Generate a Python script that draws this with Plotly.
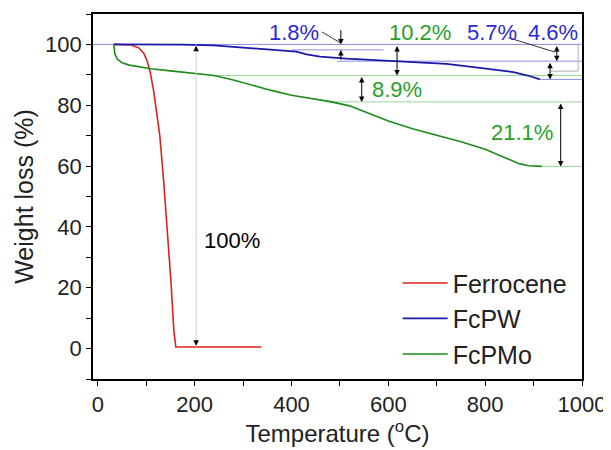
import plotly.graph_objects as go

# ---------------- data ----------------
fer_x = [33, 55, 70, 85, 95, 102, 108, 115, 122, 128, 136, 144, 151, 157, 161, 200, 260, 338]
fer_y = [100, 100, 99.8, 98.8, 97, 94.5, 91, 85, 77, 70, 55, 38, 22, 6, 0.5, 0.5, 0.5, 0.5]

pw_x = [33, 100, 171, 239, 308, 377, 410, 431, 459, 514, 583, 652, 720, 789, 858, 890, 913]
pw_y = [100, 100, 99.9, 99.7, 98.9, 98.2, 97.6, 96.7, 96.0, 95.3, 94.8, 94.3, 93.6, 92.3, 90.9, 89.7, 88.5]

pmo_x = [33, 35, 40, 50, 65, 85, 110, 150, 200, 240, 280, 320, 360, 400, 440, 480, 520,
         560, 600, 650, 700, 750, 800, 840, 870, 890, 917]
pmo_y = [100, 97, 95.2, 94, 93.2, 92.6, 92, 91.3, 90.6, 89.8, 88.3, 86.5, 84.8, 83.3, 82.2,
         81.2, 79.8, 77.2, 74.8, 72.3, 70.2, 68, 65.5, 62.8, 60.8, 60.1, 59.9]

# weight-loss step levels (%)
pw_levels = [100, 98.2, 94.5, 88.5]
pmo_levels = [100, 89.8, 81.1, 59.9]
fer_levels = [100, 0.5]
step_labels_pw = ["1.8%", "5.7%", "4.6%"]
step_labels_pmo = ["10.2%", "8.9%", "21.1%"]
fer_label = "100%"

x_ticks = [0, 200, 400, 600, 800, 1000]
y_ticks = [0, 20, 40, 60, 80, 100]

# ---------------- styles ----------------
RED = "#e0201c"
BLUE = "#1a1aa8"
GREEN = "#1c8c1c"
BLUE_T = "#2a2ad2"
GREEN_T = "#27a027"
BLUE_L = "#8c8ce6"
GREEN_L = "#96d696"
GREY_L = "#d0d0d0"
FONT = "Arial, Liberation Sans, sans-serif"

fig = go.Figure()
fig.add_trace(go.Scatter(x=fer_x, y=fer_y, mode="lines", name="Ferrocene",
                         line=dict(color=RED, width=1.6)))
fig.add_trace(go.Scatter(x=pw_x, y=pw_y, mode="lines", name="FcPW",
                         line=dict(color=BLUE, width=1.8)))
fig.add_trace(go.Scatter(x=pmo_x, y=pmo_y, mode="lines", name="FcPMo",
                         line=dict(color=GREEN, width=1.6)))

shapes = []
def hline(y, x0, x1, color):
    shapes.append(dict(type="line", xref="x", yref="y", x0=x0, x1=x1, y0=y, y1=y,
                       line=dict(color=color, width=1), layer="below"))

# reference lines
hline(pw_levels[0], -10, 1000, BLUE_L)
hline(pw_levels[1], 400, 590, BLUE_L)
hline(pw_levels[2], 494, 1000, BLUE_L)
hline(pw_levels[3], pw_x[-1], 1000, BLUE_L)
hline(pmo_levels[1], 240, 1000, GREEN_L)
hline(pmo_levels[2], 470, 1000, GREEN_L)
hline(pmo_levels[3], pmo_x[-1], 1000, GREEN_L)
# 100% grey vertical
shapes.append(dict(type="line", xref="x", yref="y", x0=203, x1=203,
                   y0=fer_levels[1], y1=fer_levels[0], line=dict(color=GREY_L, width=1)))
# grey bracket for 4.6%
shapes.append(dict(type="line", xref="x", yref="y", x0=992, x1=992, y0=100.6, y1=91.2,
                   line=dict(color="#b0b0b0", width=1)))
shapes.append(dict(type="line", xref="x", yref="y", x0=935, x1=992, y0=91.2, y1=91.2,
                   line=dict(color="#b0b0b0", width=1)))
# leader lines
shapes.append(dict(type="line", xref="x", yref="y", x0=463, x1=500, y0=104.1, y1=100.6,
                   line=dict(color="black", width=0.8)))
shapes.append(dict(type="line", xref="x", yref="y", x0=848, x1=944, y0=102.2, y1=97.5,
                   line=dict(color="black", width=0.8)))

ann = []
def darrow(x, y0, y1, side="end+start"):
    ann.append(dict(x=x, y=y1, ax=x, ay=y0, xref="x", yref="y", axref="x", ayref="y",
                    text="", showarrow=True, arrowhead=2, arrowsize=1.1, arrowwidth=1,
                    arrowcolor="black", arrowside=side, standoff=0, startstandoff=0))

darrow(618, pmo_levels[0], pmo_levels[1])
darrow(545, pmo_levels[1], pmo_levels[2])
darrow(956, pmo_levels[2], pmo_levels[3])
darrow(948, pw_levels[0], pw_levels[2])
darrow(934, pw_levels[2], pw_levels[3])
# 1.8% inward arrows
darrow(502, 105.2, pw_levels[0], side="end")
darrow(502, pw_levels[2], pw_levels[1], side="end")
# 100% arrow heads
darrow(203, 98.0, 99.6, side="end")
darrow(203, 2.0, 0.9, side="end")

def label(x, y, t, color):
    ann.append(dict(x=x, y=y, xref="x", yref="y", text=t, showarrow=False,
                    font=dict(family=FONT, size=22, color=color)))

label(406, 104, step_labels_pw[0], BLUE_T)
label(815, 104, step_labels_pw[1], BLUE_T)
label(940, 104, step_labels_pw[2], BLUE_T)
label(666, 104, step_labels_pmo[0], GREEN_T)
label(618, 85.2, step_labels_pmo[1], GREEN_T)
label(877, 71.1, step_labels_pmo[2], GREEN_T)
label(278, 35.4, fer_label, "black")

axis_common = dict(showline=True, linecolor="black", linewidth=1.6, mirror=True,
                   ticks="outside", ticklen=5, tickwidth=1.2, tickcolor="black",
                   showgrid=False, zeroline=False, automargin=False,
                   tickfont=dict(family=FONT, size=22, color="#222"))

# page body has an 8px default margin, so the figure is sized to the visible area
fig.update_layout(
    width=603, height=442,
    margin=dict(l=85, r=29, t=6, b=71),
    plot_bgcolor="white", paper_bgcolor="white",
    font=dict(family=FONT, color="#222"),
    shapes=shapes, annotations=ann,
    xaxis=dict(range=[-10, 1000], tickvals=x_ticks,
               minor=dict(dtick=100, ticks="outside", ticklen=5, tickcolor="black"),
               title=dict(text="Temperature (<sup>o</sup>C)",
                          font=dict(family=FONT, size=24, color="#222"), standoff=2),
               **axis_common),
    yaxis=dict(range=[-10, 110], tickvals=y_ticks,
               minor=dict(dtick=10, ticks="outside", ticklen=5, tickcolor="black"),
               title=dict(text="Weight loss (%)",
                          font=dict(family=FONT, size=25, color="#222"), standoff=4),
               **axis_common),
    legend=dict(x=0.623, y=0.005, xanchor="left", yanchor="bottom",
                bgcolor="rgba(0,0,0,0)", tracegroupgap=0, itemwidth=45,
                font=dict(family=FONT, size=25, color="#222")),
    showlegend=True,
)

fig.write_html("out.html")
